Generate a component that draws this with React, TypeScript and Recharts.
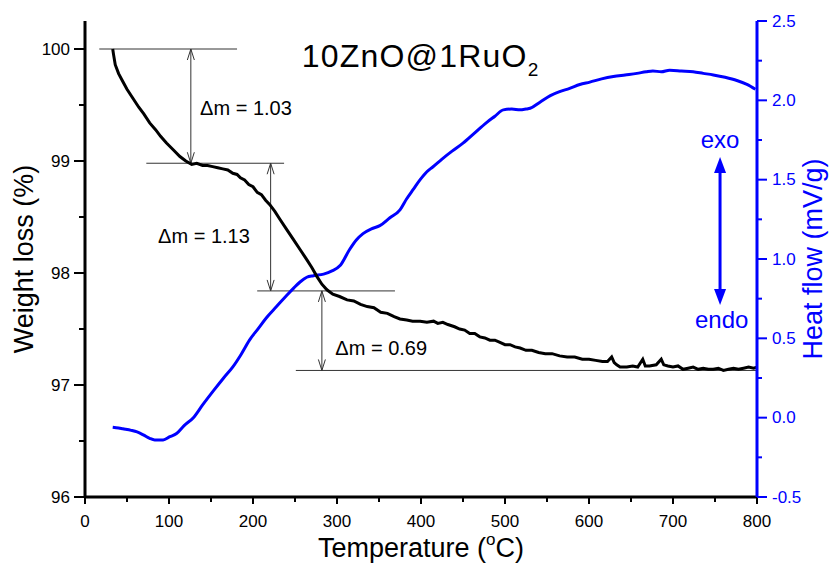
import React from "react";
import {
  ComposedChart,
  Line,
  XAxis,
  YAxis,
  ReferenceLine,
  ReferenceDot,
} from "recharts";

const FONT = '"Liberation Sans", Arial, Helvetica, sans-serif';
const BLUE = "#0000ff";
const GUIDE = "#333";

// TGA curve: [temperature °C, weight %]
const tgaCurve: [number, number][] = [
  [33, 100.0], [34, 99.95], [36, 99.86], [40, 99.78], [45, 99.71], [50, 99.64],
  [57, 99.56], [64, 99.48], [70, 99.42], [77, 99.34], [84, 99.28], [90, 99.22],
  [97, 99.16], [105, 99.1], [113, 99.04], [120, 99.0], [127, 98.97], [133, 98.98],
  [140, 98.96], [146, 98.96], [152, 98.95], [158, 98.94], [164, 98.93], [170, 98.92],
  [176, 98.89], [181, 98.88], [185, 98.85], [190, 98.83], [195, 98.79], [200, 98.77],
  [205, 98.72], [210, 98.7], [215, 98.65], [220, 98.61], [226, 98.55], [232, 98.48],
  [240, 98.39], [248, 98.3], [256, 98.21], [264, 98.12], [270, 98.05], [276, 97.97],
  [282, 97.9], [288, 97.85], [295, 97.81], [303, 97.79], [312, 97.76], [320, 97.75],
  [328, 97.72], [336, 97.7], [344, 97.69], [352, 97.65], [360, 97.64], [368, 97.61],
  [375, 97.59], [383, 97.58], [390, 97.57], [399, 97.57], [407, 97.56], [415, 97.57],
  [420, 97.55], [426, 97.56], [432, 97.54], [440, 97.52], [446, 97.5], [452, 97.49],
  [458, 97.46], [464, 97.46], [470, 97.43], [476, 97.42], [482, 97.4], [488, 97.4],
  [494, 97.38], [500, 97.36], [506, 97.36], [512, 97.34], [518, 97.33], [525, 97.31],
  [532, 97.31], [540, 97.29], [548, 97.28], [556, 97.28], [565, 97.26], [574, 97.25],
  [583, 97.25], [592, 97.23], [600, 97.23], [608, 97.22], [616, 97.21], [622, 97.21],
  [627, 97.25], [630, 97.2], [633, 97.18], [637, 97.16], [645, 97.16], [652, 97.17],
  [658, 97.16], [664, 97.23], [667, 97.17], [672, 97.17], [680, 97.18], [686, 97.23],
  [689, 97.18], [694, 97.17], [700, 97.16], [706, 97.17], [712, 97.14], [718, 97.15],
  [724, 97.16], [730, 97.14], [736, 97.15], [742, 97.14], [748, 97.14], [754, 97.15],
  [760, 97.13], [766, 97.14], [772, 97.15], [778, 97.14], [784, 97.15], [790, 97.16],
  [796, 97.15], [800, 97.16],
];

// DSC curve: [temperature °C, heat flow mV/g]
const dscCurve: [number, number][] = [
  [33, -0.06], [40, -0.065], [45, -0.07], [55, -0.08], [62, -0.09], [70, -0.11],
  [77, -0.13], [83, -0.14], [93, -0.14], [101, -0.12], [109, -0.1], [118, -0.05],
  [129, 0.0], [140, 0.08], [153, 0.17], [165, 0.25], [176, 0.32], [186, 0.4],
  [196, 0.49], [206, 0.56], [216, 0.63], [228, 0.7], [240, 0.77], [249, 0.82],
  [256, 0.855], [264, 0.885], [272, 0.895], [284, 0.905], [294, 0.925], [304, 0.96],
  [315, 1.06], [323, 1.12], [331, 1.16], [341, 1.19], [351, 1.21], [363, 1.26],
  [375, 1.31], [383, 1.38], [391, 1.44], [399, 1.5], [407, 1.55], [414, 1.58],
  [425, 1.63], [437, 1.68], [450, 1.73], [463, 1.79], [478, 1.86], [488, 1.9],
  [498, 1.94], [508, 1.945], [518, 1.94], [525, 1.945], [530, 1.95], [542, 1.99],
  [554, 2.03], [565, 2.055], [577, 2.075], [589, 2.1], [601, 2.115], [615, 2.135],
  [629, 2.15], [643, 2.16], [657, 2.17], [668, 2.18], [676, 2.185], [686, 2.18],
  [696, 2.19], [710, 2.185], [724, 2.18], [736, 2.17], [748, 2.16], [762, 2.145],
  [776, 2.125], [788, 2.1], [798, 2.07],
];

const tempTicks = [0, 50, 100, 150, 200, 250, 300, 350, 400, 450, 500, 550, 600, 650, 700, 750, 800];
const weightTicks = [96, 96.5, 97, 97.5, 98, 98.5, 99, 99.5, 100];
const heatTicks = [-0.5, -0.25, 0, 0.25, 0.5, 0.75, 1, 1.25, 1.5, 1.75, 2, 2.25, 2.5];

// step annotations: weight levels, their guide spans and arrows
const stepLevels = [100.0, 98.98, 97.84, 97.13];
const stepSpans: [number, number][] = [[17, 181], [73, 237], [205, 369], [251, 800]];
const stepArrowT = [126, 221, 282];
const stepLabels = ["Δm = 1.03", "Δm = 1.13", "Δm = 0.69"];
const stepLabelPos: [number, number][] = [[137, 99.415], [87, 98.272], [298, 97.272]];

const tgaData = tgaCurve.map(([t, w]) => ({ t, w }));
const dscData = dscCurve.map(([t, h]) => ({ t, h }));

const isMajor = (v: number, step: number) => Math.abs(v / step - Math.round(v / step)) < 1e-6;

const LeftTick = (p: any) => {
  const { x, y, payload } = p;
  const v = payload.value;
  const major = isMajor(v, 1);
  return (
    <g>
      <line x1={x - (major ? 11 : 6)} x2={x} y1={y} y2={y} stroke="#000" strokeWidth={2} />
      {major && (
        <text x={x - 15} y={y} textAnchor="end" dominantBaseline="central" fontSize={17} fontFamily={FONT} fill="#000">
          {v}
        </text>
      )}
    </g>
  );
};

const RightTick = (p: any) => {
  const { x, y, payload } = p;
  const v = payload.value;
  const major = isMajor(v, 0.5);
  return (
    <g>
      <line x1={x} x2={x + (major ? 10 : 5)} y1={y} y2={y} stroke={BLUE} strokeWidth={2} />
      {major && (
        <text x={x + 15} y={y} textAnchor="start" dominantBaseline="central" fontSize={17} fontFamily={FONT} fill={BLUE}>
          {v.toFixed(1)}
        </text>
      )}
    </g>
  );
};

const BottomTick = (p: any) => {
  const { x, y, payload } = p;
  const v = payload.value;
  const major = isMajor(v, 100);
  return (
    <g>
      <line x1={x} x2={x} y1={y} y2={y + (major ? 7 : 5)} stroke="#000" strokeWidth={2} />
      {major && (
        <text x={x} y={y + 30} textAnchor="middle" fontSize={17} fontFamily={FONT} fill="#000">
          {v}
        </text>
      )}
    </g>
  );
};

const DoubleArrow = (p: any) => {
  const { x1, y1, x2, y2 } = p;
  return (
    <g fill="none" stroke={GUIDE} strokeWidth={1}>
      <line x1={x1} y1={y1} x2={x2} y2={y2} />
      <polyline points={`${x1 - 3.5},${y1 + 11} ${x1},${y1} ${x1 + 3.5},${y1 + 11}`} />
      <polyline points={`${x2 - 3.5},${y2 - 11} ${x2},${y2} ${x2 + 3.5},${y2 - 11}`} />
    </g>
  );
};

const ExoArrow = (p: any) => {
  const { x1, y1, x2, y2 } = p;
  return (
    <g>
      <line x1={x1} y1={y1 + 12} x2={x2} y2={y2 - 12} stroke={BLUE} strokeWidth={3} />
      <polygon points={`${x1 - 6},${y1 + 16} ${x1},${y1} ${x1 + 6},${y1 + 16}`} fill={BLUE} />
      <polygon points={`${x2 - 6},${y2 - 16} ${x2},${y2} ${x2 + 6},${y2 - 16}`} fill={BLUE} />
    </g>
  );
};

const textShape = (content: React.ReactNode, size: number, color: string, anchor = "start", spacing = 0) =>
  (p: any) => (
    <text x={p.cx} y={p.cy} textAnchor={anchor} fontSize={size} fontFamily={FONT} fill={color} letterSpacing={spacing}>
      {content}
    </text>
  );

export default function App() {
  return (
    <div style={{ position: "absolute", left: 0, top: 0, width: 830, height: 563, background: "#fff" }}>
      <ComposedChart width={830} height={563} margin={{ top: 21, right: 0, bottom: 0, left: 0 }}>
        <XAxis
          xAxisId="t"
          type="number"
          dataKey="t"
          domain={[0, 800]}
          allowDataOverflow
          ticks={tempTicks}
          interval={0}
          height={66}
          tickSize={0}
          tickMargin={0}
          tickLine={false}
          axisLine={{ stroke: "#000", strokeWidth: 3 }}
          tick={(p: any) => <BottomTick {...p} />}
          label={(p: any) => {
            const vb = p.viewBox;
            return (
              <text x={vb.x + vb.width / 2} y={vb.y + 60} textAnchor="middle" fontSize={27} fontFamily={FONT} fill="#000">
                Temperature (<tspan fontSize={17} dy={-12}>o</tspan>
                <tspan dy={12}>C)</tspan>
              </text>
            );
          }}
        />
        <XAxis
          xAxisId="top"
          orientation="top"
          type="number"
          dataKey="t"
          domain={[0, 800]}
          allowDataOverflow
          height={0}
          tick={false}
          tickLine={false}
          axisLine={{ stroke: "#000", strokeWidth: 3 }}
        />
        <YAxis
          yAxisId="w"
          type="number"
          domain={[96, 100.25]}
          allowDataOverflow
          ticks={weightTicks}
          interval={0}
          width={85}
          tickSize={0}
          tickMargin={0}
          tickLine={false}
          axisLine={{ stroke: "#000", strokeWidth: 3 }}
          tick={(p: any) => <LeftTick {...p} />}
          label={(p: any) => {
            const vb = p.viewBox;
            const cx = vb.x + 24;
            const cy = vb.y + vb.height / 2;
            return (
              <text x={cx} y={cy} transform={`rotate(-90, ${cx}, ${cy})`} textAnchor="middle" dominantBaseline="central" fontSize={27} fontFamily={FONT} fill="#000">
                Weight loss (%)
              </text>
            );
          }}
        />
        <YAxis
          yAxisId="h"
          orientation="right"
          type="number"
          domain={[-0.5, 2.5]}
          allowDataOverflow
          ticks={heatTicks}
          interval={0}
          width={73}
          tickSize={0}
          tickMargin={0}
          tickLine={false}
          axisLine={{ stroke: BLUE, strokeWidth: 3 }}
          tick={(p: any) => <RightTick {...p} />}
          label={(p: any) => {
            const vb = p.viewBox;
            const cx = vb.x + 56;
            const cy = vb.y + vb.height / 2;
            return (
              <text x={cx} y={cy} transform={`rotate(-90, ${cx}, ${cy})`} textAnchor="middle" dominantBaseline="central" fontSize={27} fontFamily={FONT} fill={BLUE}>
                Heat flow (mV/g)
              </text>
            );
          }}
        />

        {stepLevels.map((w, i) => (
          <ReferenceLine
            key={`lvl${i}`}
            xAxisId="t"
            yAxisId="w"
            ifOverflow="visible"
            segment={[{ x: stepSpans[i][0], y: w }, { x: stepSpans[i][1], y: w }]}
            stroke={GUIDE}
            strokeWidth={1}
          />
        ))}
        {stepArrowT.map((t, i) => (
          <ReferenceLine
            key={`arr${i}`}
            xAxisId="t"
            yAxisId="w"
            ifOverflow="visible"
            segment={[{ x: t, y: stepLevels[i] }, { x: t, y: stepLevels[i + 1] }]}
            shape={(p: any) => <DoubleArrow {...p} />}
          />
        ))}
        {stepLabels.map((s, i) => (
          <ReferenceDot
            key={`lab${i}`}
            xAxisId="t"
            yAxisId="w"
            ifOverflow="visible"
            x={stepLabelPos[i][0]}
            y={stepLabelPos[i][1]}
            r={0}
            shape={textShape(s, 20, "#000")}
          />
        ))}

        <ReferenceDot
          xAxisId="t"
          yAxisId="w"
          ifOverflow="visible"
          x={258}
          y={99.835}
          r={0}
          shape={textShape(
            <>
              10ZnO@1RuO<tspan fontSize={19} dy={9}>2</tspan>
            </>,
            32,
            "#000",
            "start",
            1.2
          )}
        />

        <ReferenceLine
          xAxisId="t"
          yAxisId="h"
          ifOverflow="visible"
          segment={[{ x: 756, y: 1.643 }, { x: 756, y: 0.71 }]}
          shape={(p: any) => <ExoArrow {...p} />}
        />
        <ReferenceDot xAxisId="t" yAxisId="h" ifOverflow="visible" x={756} y={1.7} r={0} shape={textShape("exo", 24, BLUE, "middle")} />
        <ReferenceDot xAxisId="t" yAxisId="h" ifOverflow="visible" x={758} y={0.565} r={0} shape={textShape("endo", 24, BLUE, "middle")} />

        <Line
          xAxisId="t"
          yAxisId="h"
          data={dscData}
          dataKey="h"
          type="monotone"
          stroke={BLUE}
          strokeWidth={3}
          dot={false}
          isAnimationActive={false}
        />
        <Line
          xAxisId="t"
          yAxisId="w"
          data={tgaData}
          dataKey="w"
          type="linear"
          stroke="#000"
          strokeWidth={3}
          dot={false}
          isAnimationActive={false}
        />
      </ComposedChart>
    </div>
  );
}
